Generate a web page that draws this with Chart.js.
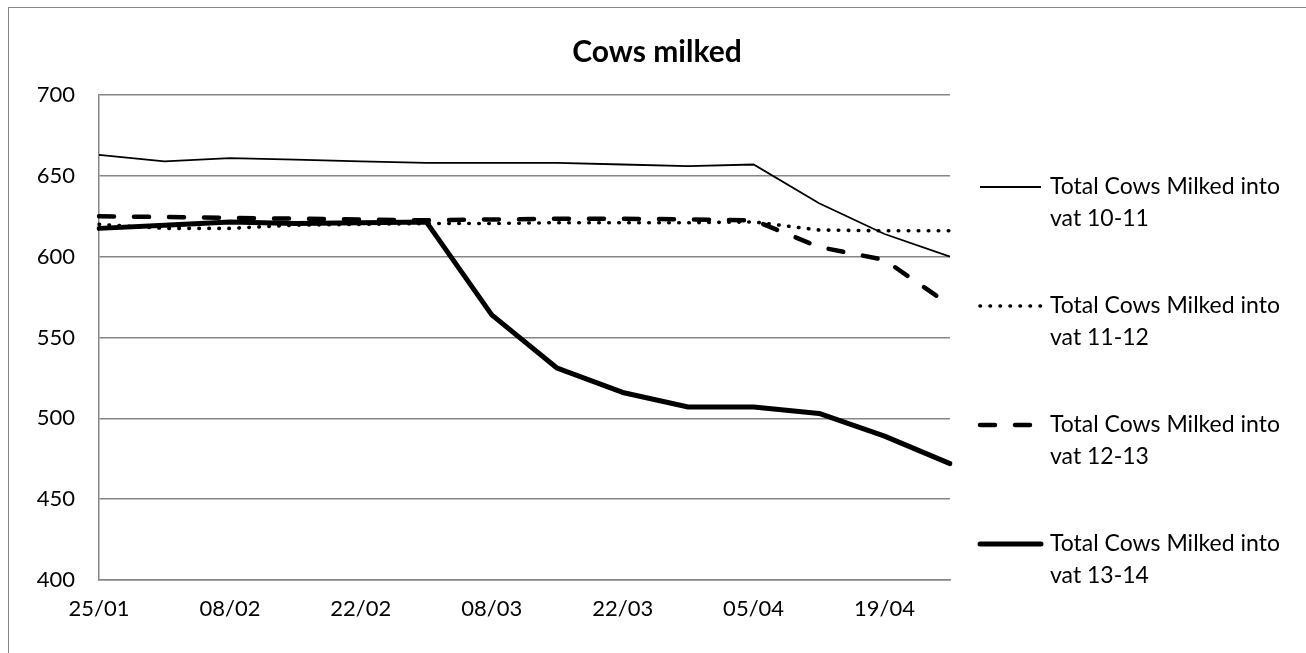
<!DOCTYPE html>
<html>
<head>
<meta charset="utf-8">
<script src="https://cdn.jsdelivr.net/npm/chart.js@4.4.1/dist/chart.umd.min.js"></script>
<style>
  html, body { margin: 0; padding: 0; background: #fff; }
  #wrap { position: relative; width: 1306px; height: 653px; }
</style>
</head>
<body>
<div id="wrap"><canvas id="cowsChart" width="1306" height="653"></canvas></div>
<script>
const weeks = ["25/01", "01/02", "08/02", "15/02", "22/02", "01/03", "08/03",
               "15/03", "22/03", "29/03", "05/04", "12/04", "19/04", "26/04"];

const vat1011 = [663, 659, 661, 660, 659, 658, 658, 658, 657, 656, 657, 633, 614, 600];
const vat1112 = [620, 617.5, 617.5, 619.5, 620, 620.5, 620.5, 621, 621, 621, 621.5, 616.5, 616, 616];
const vat1213 = [625, 624.5, 624, 623.5, 623, 622.5, 623, 623.5, 623.5, 623, 622.5, 606, 598, 570];
const vat1314 = [617.5, 619.5, 621.5, 620.5, 621, 621.5, 564, 531, 516, 507, 507, 503, 489, 472];

const seriesNames = [
    "Total Cows Milked into vat 10-11",
    "Total Cows Milked into vat 11-12",
    "Total Cows Milked into vat 12-13",
    "Total Cows Milked into vat 13-14"
];

const FONT = "Lato, 'Open Sans', sans-serif";
const GRID = "#868686";

// title, outer frame and the wrapped legend on the right (Excel style)
const excelLook = {
    id: "excelLook",
    afterDraw(chart) {
        const ctx = chart.ctx;
        ctx.save();
        ctx.strokeStyle = GRID;
        ctx.lineWidth = 1;
        ctx.strokeRect(8.5, 7.5, 1330, 700);

        ctx.fillStyle = "#000";
        ctx.font = "bold 30px " + FONT;
        ctx.textAlign = "center";
        ctx.textBaseline = "middle";
        ctx.fillText("Cows milked", 657, 52);

        ctx.font = "23px " + FONT;
        ctx.textAlign = "left";
        chart.data.datasets.forEach((ds, i) => {
            const y = 187 + 119 * i;
            ctx.beginPath();
            ctx.strokeStyle = "#000";
            ctx.lineWidth = ds.borderWidth;
            ctx.lineCap = ds.borderCapStyle || "butt";
            ctx.setLineDash(ds.borderDash || []);
            ctx.moveTo(980, y);
            ctx.lineTo(1041, y);
            ctx.stroke();
            ctx.setLineDash([]);
            const lines = ds.label.replace(" vat", "\nvat").split("\n");
            lines.forEach((t, k) => ctx.fillText(t, 1050, y + 31.5 * k));
        });
        ctx.restore();
    }
};

new Chart(document.getElementById("cowsChart"), {
    type: "line",
    data: {
        labels: weeks,
        datasets: [
            { label: seriesNames[0], data: vat1011, borderColor: "#000", borderWidth: 1.8, order: 3 },
            { label: seriesNames[1], data: vat1112, borderColor: "#000", borderWidth: 3.6,
              borderDash: [0.5, 9.5], borderCapStyle: "round", order: 2 },
            { label: seriesNames[2], data: vat1213, borderColor: "#000", borderWidth: 4.5,
              borderDash: [15, 20], borderCapStyle: "round", order: 1 },
            { label: seriesNames[3], data: vat1314, borderColor: "#000", borderWidth: 5,
              borderCapStyle: "round", borderJoinStyle: "round", order: 0 }
        ]
    },
    options: {
        responsive: false,
        animation: false,
        layout: { padding: { left: 8, top: 95, right: 356, bottom: 0 } },
        elements: { point: { radius: 0 }, line: { tension: 0 } },
        plugins: {
            legend: { display: false },
            title: { display: false },
            tooltip: { enabled: false }
        },
        scales: {
            x: {
                offset: false,
                grid: { display: false, drawTicks: false },
                border: { color: GRID, width: 1.5 },
                ticks: {
                    autoSkip: false, maxRotation: 0, padding: 16, color: "#000",
                    font: { family: FONT, size: 22 },
                    callback: (v, i) => (i % 2 === 0 ? weeks[i] : "")
                },
                afterFit: (s) => { s.height = 73; }
            },
            y: {
                min: 400, max: 700,
                grid: { color: GRID, lineWidth: 1.5, drawTicks: false },
                border: { color: GRID, width: 1.5 },
                ticks: { stepSize: 50, padding: 24, color: "#000", font: { family: FONT, size: 22 } },
                afterFit: (s) => { s.width = 91; }
            }
        }
    },
    plugins: [excelLook]
});
</script>
</body>
</html>
